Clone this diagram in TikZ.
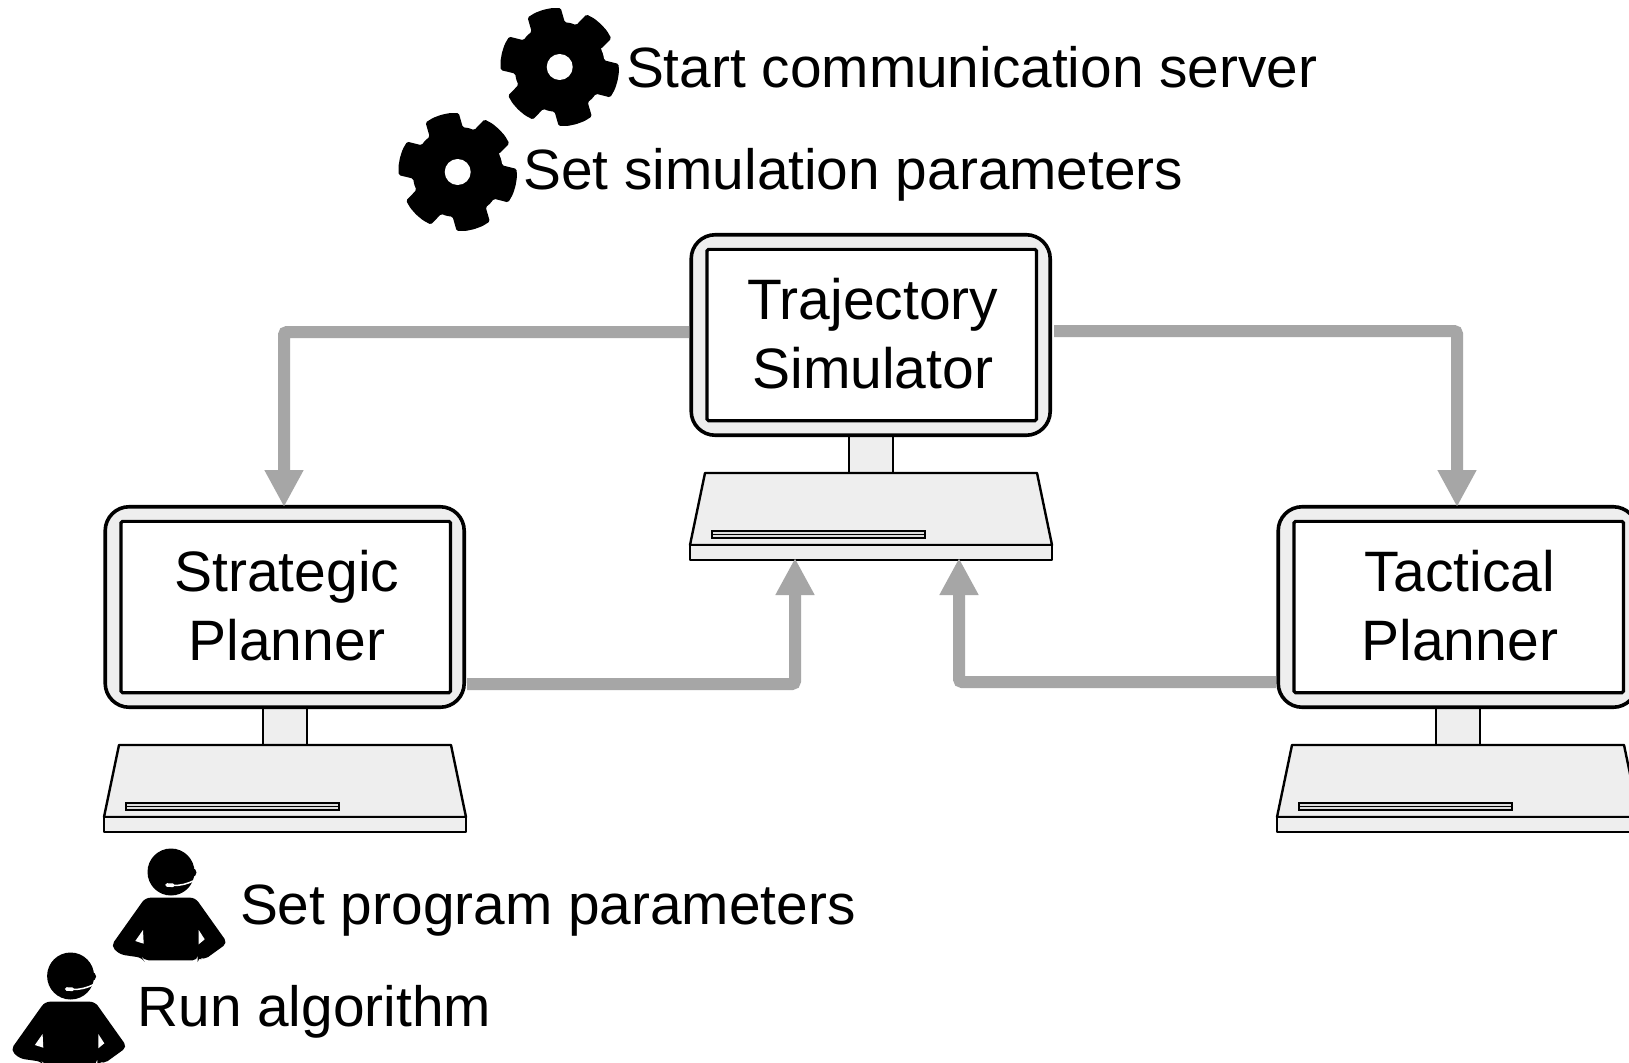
\documentclass[tikz,border=0pt]{standalone}
\usepackage{fontspec}
\setmainfont{Liberation Sans}
\usetikzlibrary{arrows.meta}
\definecolor{panel}{HTML}{EEEEEE}
\definecolor{link}{HTML}{A6A6A6}
\tikzset{
  label text/.style={anchor=base west,inner sep=0pt,outer sep=0pt,font=\fontsize{56.8}{69}\selectfont},
  conn/.style={draw=link,line width=12pt,rounded corners=3pt,-{Triangle[length=37pt,width=36.5pt]}},
  monitor/.style={draw=black,fill=panel,line width=3.6pt,rounded corners=24pt,minimum width=359pt,minimum height=200.5pt,inner sep=0pt,outer sep=0pt},
  screen/.style={draw=black,fill=white,line width=3.2pt,rounded corners=1.5pt,minimum width=329.5pt,minimum height=171.3pt,inner sep=0pt,outer sep=0pt},
  screen text/.style={inner sep=0pt,outer sep=0pt,align=center,font=\fontsize{57}{69}\selectfont},
  basepart/.style={draw=black,fill=panel,line width=2.4pt,line join=round},
  computer/.pic={
    \path[basepart] (159,198) rectangle (203,238);
    \path[basepart] (15,238) -- (347,238) -- (362,310) -- (0,310) -- cycle;
    \path[basepart] (0,310) rectangle (362,325);
    \path[draw=black,fill=panel!85!gray,line width=1.4pt] (22,296) rectangle (235,303);
    \path[draw=black,line width=1.4pt] (22,299.5) -- (235,299.5);
    \node[monitor] (-mon) at (180.7,100) {};
    \node[screen] (-scr) at (181.8,100) {};
    \node[screen text] (-txt) at (182.8,98.5) {#1};
    \coordinate (-top) at (180,0);
    \coordinate (-wu) at (-1,97);
    \coordinate (-eu) at (364,96);
    \coordinate (-el) at (363,177);
    \coordinate (-wl) at (-1,175);
    \coordinate (-inL) at (105,323);
    \coordinate (-inR) at (269,323);
  },
  gearicon/.pic={
    \fill[black,rounded corners=1.5pt]
      (-23.5:45) \foreach \a in {-46,-106,-166,-226,-286,-346} {
        -- (\a+22.5:45) -- (\a+17:59) -- (\a+8.5:59.5) -- (\a:59.5) -- (\a-8.5:59.5) -- (\a-17:59) -- (\a-22.5:45) -- (\a-30:45.3)
      } -- cycle;
    \fill[white] (0,0) circle[radius=13];
  },
  personicon/.pic={
    \fill[black] (0,0) circle[radius=23.5];
    \fill[black] (21,0.5) circle[radius=4.5];
    \fill[black,rounded corners=5pt] (-25.7,25.7) -- (24.3,25.7) -- (56.5,71) -- (33,88) -- (26.7,85) -- (26.7,88.3) -- (-27.3,88.3) -- (-29,85.7) -- (-51,82.5) -- (-60,74) -- cycle;
    \fill[white] (-35.7,69) -- (-28,58) -- (-27.3,71.7) -- cycle;
    \fill[white] (27.7,58) -- (33.7,67.3) -- (27.7,72.3) -- cycle;
    \draw[white,line width=3.6pt,line cap=round] (-4,13) -- (2,13.3);
    \draw[white,line width=1.5pt] (2,13.5) .. controls (10,13.5) and (16,12) .. (23,8.5);
  }
}
\begin{document}
\begin{tikzpicture}[x=1pt,y=-1pt]
  \useasboundingbox (0,0) rectangle (1629,1062);
  \clip (0,0) rectangle (1629,1062);
  \fill[white] (0,0) rectangle (1629,1062);

  \pic (sim) at (690,235) {computer={Trajectory\\Simulator}};
  \pic (strat) at (104,507) {computer={Strategic\\Planner}};
  \pic (tact) at (1277,507) {computer={Tactical\\Planner}};

  \draw[conn] (sim-wu) -| (strat-top);
  \draw[conn] (sim-eu) -| (tact-top);
  \draw[conn] (strat-el) -| (sim-inL);
  \draw[conn] (tact-wl) -| (sim-inR);

  \pic at (559.7,67) {gearicon};
  \pic at (457.7,172) {gearicon};
  \pic at (171,872) {personicon};
  \pic at (70.6,976) {personicon};

  \node[label text] (startlbl) at (626,88) {Start communication server};
  \node[label text] (setlbl) at (523.5,189) {Set simulation parameters};
  \node[label text] (proglbl) at (240,924) {Set program parameters};
  \node[label text] (runlbl) at (137.5,1026) {Run algorithm};
\end{tikzpicture}
\end{document}
